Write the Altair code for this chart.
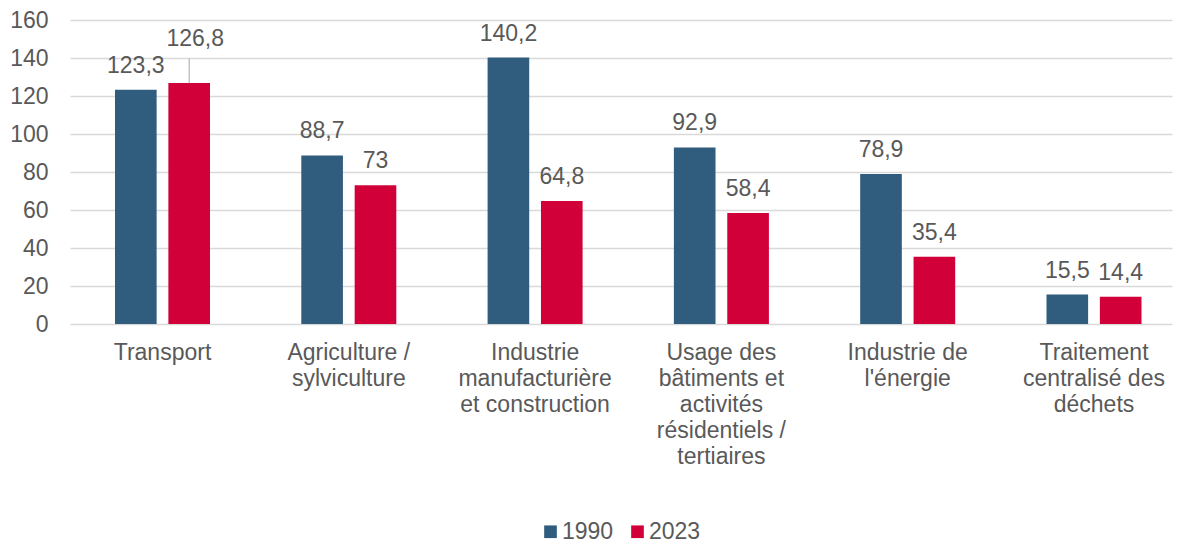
import altair as alt
import pandas as pd

categories = [
    "Transport",
    "Agriculture /\nsylviculture",
    "Industrie\nmanufacturière\net construction",
    "Usage des\nbâtiments et\nactivités\nrésidentiels /\ntertiaires",
    "Industrie de\nl'énergie",
    "Traitement\ncentralisé des\ndéchets",
]
years = ["1990", "2023"]
values_1990 = [123.3, 88.7, 140.2, 92.9, 78.9, 15.5]
values_2023 = [126.8, 73, 64.8, 58.4, 35.4, 14.4]
y_ticks = [0, 20, 40, 60, 80, 100, 120, 140, 160]

rows = []
for c, v in zip(categories, values_1990):
    rows.append({"category": c, "year": "1990", "value": v})
for c, v in zip(categories, values_2023):
    rows.append({"category": c, "year": "2023", "value": v})
df = pd.DataFrame(rows)

FONT = "Liberation Sans"
TXT = "#595959"
BLUE = "#305C7D"
RED = "#D20039"
FS = 23

xenc = alt.X(
    "category:N",
    sort=categories,
    scale=alt.Scale(paddingInner=0.49, paddingOuter=0.2026, align=0.596),
    axis=alt.Axis(
        title=None, labelAngle=0, domain=False, ticks=False,
        labelPadding=17, labelFontSize=FS, labelColor=TXT, labelFont=FONT,
        labelLineHeight=26, labelExpr="split(datum.label, '\\n')",
        labelLimit=300,
    ),
)
xoff = alt.XOffset("year:N", sort=years,
                   scale=alt.Scale(paddingInner=0.22, paddingOuter=0))
yenc = alt.Y(
    "value:Q",
    scale=alt.Scale(domain=[0, 160], nice=False),
    axis=alt.Axis(
        title=None, values=y_ticks, domain=False, ticks=False,
        labelOverlap=False, tickCount=9,
        labelPadding=22, labelFontSize=FS, labelColor=TXT, labelFont=FONT,
        gridColor="#D9D9D9", gridWidth=1.5,
    ),
)

base = alt.Chart(df).transform_calculate(
    label="replace(toString(datum.value), '.', ',')"
)

bars = base.mark_bar().encode(
    x=xenc,
    xOffset=xoff,
    y=yenc,
    color=alt.Color(
        "year:N",
        sort=years,
        scale=alt.Scale(domain=years, range=[BLUE, RED]),
        legend=alt.Legend(
            title=None, orient="none", direction="horizontal",
            legendX=469, legendY=500, symbolType="square", symbolSize=160,
            symbolStrokeWidth=0, labelFontSize=FS, labelColor=TXT,
            labelFont=FONT, labelOffset=0, columnPadding=12,
        ),
    ),
)

normal = base.transform_filter(
    "!(datum.category == 'Transport' && datum.year == '2023')"
)
labels = normal.mark_text(
    baseline="alphabetic", dy=-17, fontSize=FS, font=FONT, color=TXT
).encode(x=xenc, xOffset=xoff, y=yenc, text="label:N")

special = base.transform_filter(
    "datum.category == 'Transport' && datum.year == '2023'"
)
special_label = special.mark_text(
    baseline="alphabetic", dy=-37, dx=6, fontSize=FS, font=FONT, color=TXT
).encode(x=xenc, xOffset=xoff, y=yenc, text="label:N")
leader = special.transform_calculate(top="datum.value + 13").mark_rule(
    color="#A6A6A6", strokeWidth=1
).encode(x=xenc, xOffset=xoff, y=yenc, y2="top:Q")

chart = alt.layer(bars, labels, special_label, leader).properties(
    width=1102, height=304,
    autosize=alt.AutoSizeParams(type="none"),
    padding={"left": 62, "top": 12, "right": 2, "bottom": 222},
).configure_view(stroke=None)

chart.save("out.html", embed_options={"renderer": "svg", "actions": False})
